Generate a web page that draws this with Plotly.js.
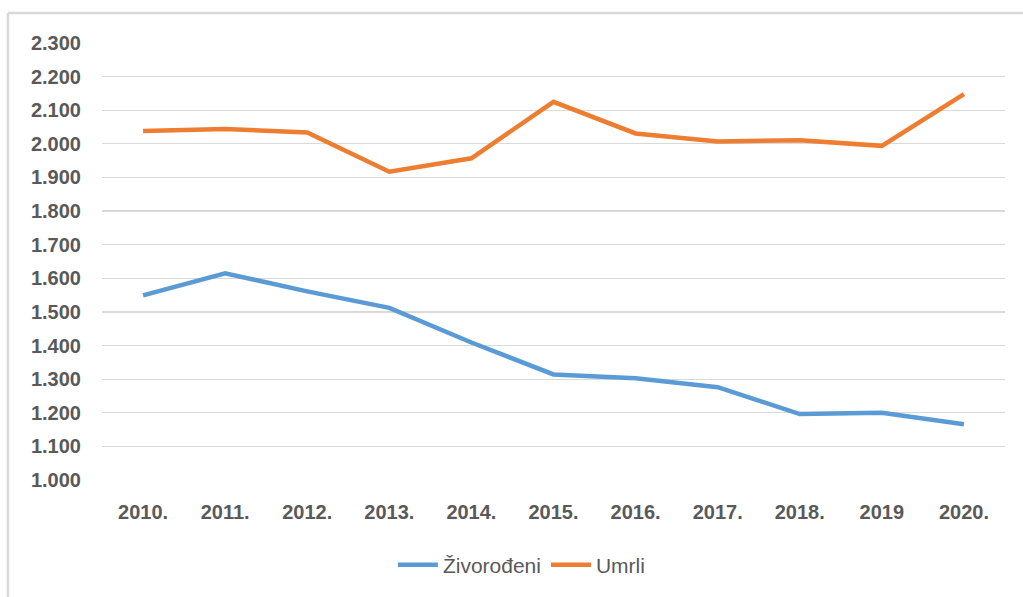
<!DOCTYPE html>
<html>
<head>
<meta charset="utf-8">
<script src="https://cdn.plot.ly/plotly-3.0.1.min.js"></script>
<style>
html,body{margin:0;padding:0;background:#fff;}
#chart{width:1023px;height:597px;}
</style>
</head>
<body>
<div id="chart"></div>
<script>
const years = ["2010.", "2011.", "2012.", "2013.", "2014.", "2015.", "2016.", "2017.", "2018.", "2019", "2020."];
const zivorodjeni = [1549, 1615, 1561, 1512, 1409, 1314, 1303, 1276, 1196, 1200, 1166];
const umrli = [2038, 2044, 2034, 1917, 1957, 2125, 2031, 2007, 2011, 1994, 2148];
const yTicks = [1000, 1100, 1200, 1300, 1400, 1500, 1600, 1700, 1800, 1900, 2000, 2100, 2200, 2300];

const traces = [
  {x: years, y: zivorodjeni, type: 'scatter', mode: 'lines', name: 'Živorođeni',
   line: {color: '#5b9bd5', width: 4.5}},
  {x: years, y: umrli, type: 'scatter', mode: 'lines', name: 'Umrli',
   line: {color: '#ed7d31', width: 4.5}}
];

const border = {color: '#d9d9d9', width: 2.5};
const layout = {
  width: 1023, height: 597,
  margin: {l: 102, r: 18, t: 43, b: 116},
  paper_bgcolor: '#ffffff', plot_bgcolor: '#ffffff',
  font: {family: 'Liberation Sans, Arial, sans-serif', color: '#595959'},
  xaxis: {
    type: 'category', range: [-0.5, years.length - 0.5],
    showgrid: false, zeroline: false, showline: false, ticks: '',
    tickfont: {size: 20, weight: 'bold', color: '#595959'},
    ticklabelstandoff: 18
  },
  yaxis: {
    range: [1000, 2300], tickmode: 'array', tickvals: yTicks,
    ticktext: yTicks.map(v => (v/1000).toFixed(3)),
    showgrid: true, gridcolor: '#d9d9d9', gridwidth: 1.2, zeroline: false, showline: false, ticks: '',
    tickfont: {size: 20, weight: 'bold', color: '#595959'},
    ticklabelstandoff: 20
  },
  showlegend: true,
  legend: {orientation: 'h', x: 0.465, xanchor: 'center', y: -0.192, yanchor: 'middle',
           font: {size: 21, color: '#595959'}, itemwidth: 40, tracegroupgap: 0},
  shapes: [
    {type: 'line', xref: 'paper', yref: 'paper', x0: -0.1041, x1: -0.1041, y0: -0.4, y1: 1.0685, line: border},
    {type: 'line', xref: 'paper', yref: 'paper', x0: -0.1041, x1: 1.1, y0: 1.0685, y1: 1.0685, line: border}
  ]
};

Plotly.newPlot('chart', traces, layout, {displayModeBar: false, staticPlot: true});
</script>
</body>
</html>
